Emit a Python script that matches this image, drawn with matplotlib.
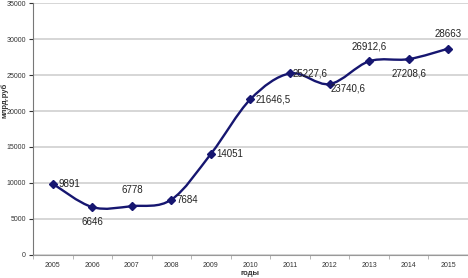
import numpy as np
import matplotlib.pyplot as plt
from matplotlib.path import Path
from matplotlib.patches import PathPatch

plt.rcParams['font.family'] = ['Liberation Sans', 'DejaVu Sans']

# data
years = ['2005', '2006', '2007', '2008', '2009', '2010', '2011', '2012', '2013', '2014', '2015']
values = [9891, 6646, 6778, 7684, 14051, 21646.5, 25227.6, 23740.6, 26912.6, 27208.6, 28663]
labels = ['9891', '6646', '6778', '7684', '14051', '21646,5', '25227,6', '23740,6', '26912,6', '27208,6', '28663']
# where each label sits relative to its point: (dx, dy) in points, ha, va
label_pos = [(4, 0, 'left', 'center'), (0, -7, 'center', 'top'), (0, 8, 'center', 'bottom'),
             (4, 0, 'left', 'center'), (4, 0, 'left', 'center'), (4, 0, 'left', 'center'),
             (2, 0, 'left', 'center'), (1, -3, 'left', 'center'), (0, 7, 'center', 'bottom'),
             (0, -7, 'center', 'top'), (0, 7, 'center', 'bottom')]

line_col = '#161670'

fig = plt.figure(figsize=(4.68, 2.78), dpi=100)
ax = fig.add_axes([0.0705, 0.083, 0.9295, 0.906])

x = np.arange(len(years))
ax.set_xlim(-0.5, len(years) - 0.5)
ax.set_ylim(0, 35000)

# smoothed line (Catmull-Rom -> Bezier, computed in screen space)
pts = ax.transData.transform(np.column_stack([x, values]))
verts = [pts[0]]
codes = [Path.MOVETO]
for i in range(len(pts) - 1):
    p0 = pts[i - 1] if i > 0 else pts[i]
    p1 = pts[i]
    p2 = pts[i + 1]
    p3 = pts[i + 2] if i + 2 < len(pts) else pts[i + 1]
    c1 = p1 + (p2 - p0) / 6
    c2 = p2 - (p3 - p1) / 6
    verts += [c1, c2, p2]
    codes += [Path.CURVE4] * 3
verts = ax.transData.inverted().transform(np.array(verts))
ax.add_patch(PathPatch(Path(verts, codes), facecolor='none', edgecolor=line_col, lw=1.7, zorder=3))
ax.plot(x, values, linestyle='none', marker='D', ms=4.5, color=line_col, zorder=4)

for xi, v, lab, (dx, dy, ha, va) in zip(x, values, labels, label_pos):
    ax.annotate(lab, (xi, v), xytext=(dx, dy), textcoords='offset points',
                ha=ha, va=va, fontsize=7, color='#222222', zorder=5)

ax.set_xticks(x)
ax.set_xticklabels(years, fontsize=5, color='#333333')
ax.set_xticks(np.arange(len(years) + 1) - 0.5, minor=True)
ax.tick_params(axis='x', which='major', length=0, pad=5)
ax.tick_params(axis='x', which='minor', length=3, color='#aaaaaa')
ax.set_yticks(np.arange(0, 35001, 5000))
ax.tick_params(axis='y', labelsize=5, colors='#333333', length=3, pad=2)
ax.grid(axis='y', color='#d0d0d0', lw=1.2)
ax.set_axisbelow(True)
for s in ['top', 'right']:
    ax.spines[s].set_visible(False)
ax.spines['left'].set_color('#777777')
ax.spines['bottom'].set_color('#999999')

fig.text(0.009, 0.64, 'млрд.руб', rotation=90, fontsize=5.5, fontweight='bold',
         ha='center', va='center', color='#333333')
fig.text(0.535, 0.002, 'годы', fontsize=5.5, fontweight='bold', ha='center', va='bottom', color='#333333')

fig.savefig('out.png', dpi=100)
